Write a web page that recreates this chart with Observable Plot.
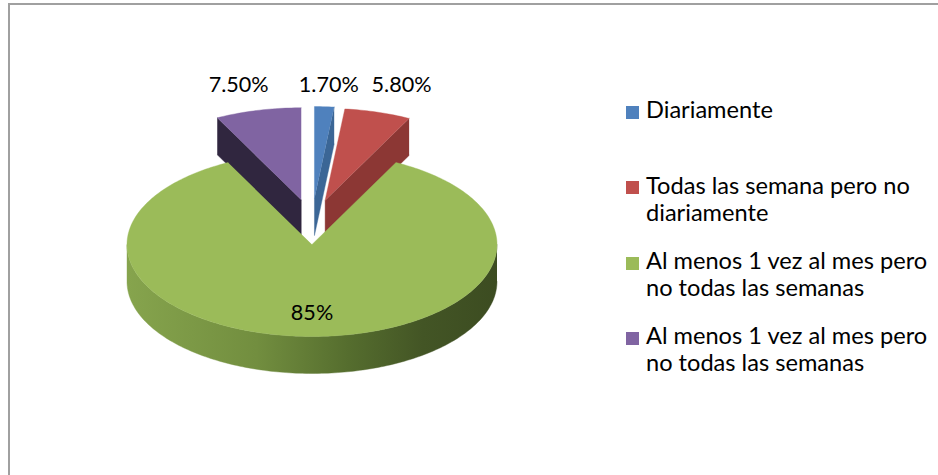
<!DOCTYPE html>
<html><head><meta charset="utf-8">
<script src="https://cdn.jsdelivr.net/npm/d3@7"></script>
<script src="https://cdn.jsdelivr.net/npm/@observablehq/plot@0.6"></script>
<style>
html,body{margin:0;padding:0;background:#fff;overflow:hidden;width:938px;height:475px}
#wrap{position:relative;width:938px;height:475px;overflow:hidden}
#frame{position:absolute;left:8px;top:3px;width:1000px;height:600px;border-left:2px solid #a0a0a0;border-top:2px solid #a0a0a0;box-sizing:border-box}
#chart{position:absolute;left:0;top:0}
.item{position:absolute;left:626px;width:305px}
.sw{position:absolute;left:0;width:13px;height:13px}
.tx{position:absolute;left:20px;width:290px;color:#000;line-height:27px}
</style></head>
<body><div id="wrap"><div id="frame"></div><div id="chart"></div><div id="legend"></div></div>
<script>
// ---- data ----
const categories = [
  "Diariamente",
  "Todas las semana pero no diariamente",
  "Al menos 1 vez al mes pero no todas las semanas",
  "Al menos 1 vez al mes pero no todas las semanas"
];
const values = [1.7, 5.8, 85, 7.5];
const valueLabels = ["1.70%", "5.80%", "85%", "7.50%"];
const exploded = [true, true, false, true];

// ---- styles ----
const topColors = ["#4F81BD", "#C0504D", "#9BBB59", "#8064A2"];
const wallColors = ["#3B6696", "#8C3734", "url(#greenWall)", "#30263F"];
const FONT = "Lato, 'Open Sans', sans-serif";

// ---- layout ----
const W = 938, H = 475;
const CX = 311.5, CY = 244, RX = 185, RY = 92, DEPTH = 37, EXPLODE = 46;
const depthU = DEPTH / RY, exU = EXPLODE / RX, eyU = EXPLODE / RY;

function fitFont(text, targetWidth) {
  const ctx = document.createElement("canvas").getContext("2d");
  ctx.font = "100px Lato";
  return 100 * targetWidth / ctx.measureText(text).width;
}
const labelSize = fitFont("7.50%", 60);
const legendSize = fitFont("Todas las semana pero no", 264);

const arcs = d3.pie().sort(null).value(d => d)(values);

function pt(a, r, ox, oy, z) {
  return {x: ox + r * Math.sin(a), y: oy + r * Math.cos(a) - z};
}
function arcPts(a1, a2, ox, oy, z) {
  const n = Math.max(2, Math.ceil(Math.abs(a2 - a1) / (Math.PI / 180)) + 1);
  return d3.range(n).map(i => pt(a1 + (a2 - a1) * i / (n - 1), 1, ox, oy, z));
}

const polys = [];
const labelData = [];
const order = d3.range(values.length).sort((a, b) => (exploded[b] ? 1 : 0) - (exploded[a] ? 1 : 0));
for (const i of order) {
  const {startAngle: s, endAngle: e} = arcs[i];
  const m = (s + e) / 2;
  const ox = exploded[i] ? exU * Math.sin(m) : 0;
  const oy = exploded[i] ? eyU * Math.cos(m) : 0;
  // radial walls
  if (Math.cos(s - Math.PI / 2) < -1e-6) {
    polys.push({fill: wallColors[i], pts: [pt(s, 1, ox, oy, 0), pt(s, 0, ox, oy, 0), pt(s, 0, ox, oy, depthU), pt(s, 1, ox, oy, depthU)]});
  }
  if (Math.cos(e + Math.PI / 2) < -1e-6) {
    polys.push({fill: wallColors[i], pts: [pt(e, 1, ox, oy, 0), pt(e, 0, ox, oy, 0), pt(e, 0, ox, oy, depthU), pt(e, 1, ox, oy, depthU)]});
  }
  // outer wall (front half only)
  const a1 = Math.max(s, Math.PI / 2), a2 = Math.min(e, 3 * Math.PI / 2);
  if (a2 > a1) {
    polys.push({fill: wallColors[i], pts: [...arcPts(a1, a2, ox, oy, 0), ...arcPts(a2, a1, ox, oy, depthU)]});
  }
  // top face
  polys.push({fill: topColors[i], pts: [pt(0, 0, ox, oy, 0), ...arcPts(s, e, ox, oy, 0)]});
  // label
  if (exploded[i]) {
    labelData.push({x: ox + 1.45 * Math.sin(m), y: eyU + 1.23, text: valueLabels[i]});
  } else {
    labelData.push({x: 0.75 * Math.sin(m), y: 0.75 * Math.cos(m), text: valueLabels[i]});
  }
}

const svg = Plot.plot({
  width: W, height: H,
  margin: 0,
  x: {domain: [-1, 1], range: [CX - RX, CX + RX], axis: null},
  y: {domain: [-1, 1], range: [CY + RY, CY - RY], axis: null},
  style: {background: "transparent"},
  marks: [
    ...polys.map(p => Plot.line(p.pts, {x: "x", y: "y", fill: p.fill, stroke: p.fill, strokeWidth: 0.4, curve: "linear"})),
    Plot.text(labelData, {x: "x", y: "y", text: "text", fontSize: labelSize, fontFamily: FONT, fill: "#000"})
  ]
});
svg.insertAdjacentHTML("afterbegin",
  `<defs><linearGradient id="greenWall" x1="0" x2="1" y1="0" y2="0">
     <stop offset="0" stop-color="#86a44d"/>
     <stop offset="0.35" stop-color="#728e3f"/>
     <stop offset="0.6" stop-color="#556d2e"/>
     <stop offset="0.8" stop-color="#435525"/>
     <stop offset="1" stop-color="#3c4c21"/>
   </linearGradient></defs>`);
document.getElementById("chart").appendChild(svg);

// ---- legend ----
const legend = document.getElementById("legend");
const baseline0 = 119, slot = 75.3;
const asc = 0.987, desc = 0.213; // Lato metrics
const lineH = 27;
const baseInLine = (lineH - (asc + desc) * legendSize) / 2 + asc * legendSize;
categories.forEach((c, i) => {
  const top = baseline0 + i * slot - baseInLine;
  const item = document.createElement("div");
  item.className = "item";
  item.style.top = top + "px";
  item.innerHTML = `<span class="sw" style="background:${topColors[i]};top:${baseInLine - 13}px"></span><span class="tx" style="font-family:${FONT};font-size:${legendSize}px">${c}</span>`;
  legend.appendChild(item);
});
</script>
</body></html>
